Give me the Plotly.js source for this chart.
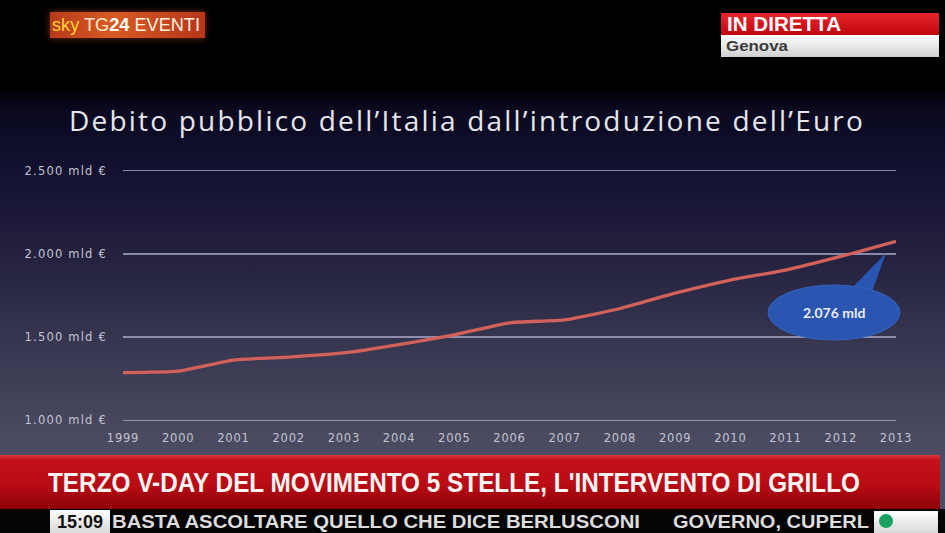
<!DOCTYPE html>
<html>
<head>
<meta charset="utf-8">
<script src="https://cdn.plot.ly/plotly-3.0.1.min.js"></script>
<style>
  html, body { margin:0; padding:0; width:945px; height:533px; overflow:hidden; background:#000; }
  #wrap { position:relative; width:945px; height:533px;
    background: linear-gradient(to bottom, #000 0px, #000 88px, #0a0920 110px, #131130 170px, #24223f 260px, #393852 350px, #4a4a61 440px, #4d4c63 460px); }
  #chart { position:absolute; left:0; top:0; width:945px; height:533px; }
  #chart .gtitle { letter-spacing: 2.2px; }
  #chart .ytick text { letter-spacing: 1.2px; }
  #chart .xtick text { letter-spacing: 0.8px; }
  .ov { position:absolute; font-family:"Liberation Sans",Arial,sans-serif; font-weight:bold; white-space:nowrap; }
  .fit { display:inline-block; transform-origin:0 50%; }
  #logo { left:50px; top:12px; width:155px; height:26px; background:linear-gradient(to right,#b83a1a,#d85a22 40%,#b8361a); box-shadow:0 0 6px rgba(230,90,30,0.55); font-size:19px; line-height:26px; padding-left:2px; box-sizing:border-box; font-weight:normal; overflow:hidden; }
  #live1 { left:721px; top:13px; width:218px; height:22px; background:linear-gradient(to bottom,#e8262c,#c0060e); color:#fff; font-size:20px; line-height:23px; padding-left:6px; box-sizing:border-box; }
  #live2 { left:721px; top:35px; width:218px; height:22px; background:linear-gradient(to bottom,#ffffff,#d0d0d0); color:#3a3a3a; font-size:15px; line-height:21px; padding-left:5px; box-sizing:border-box; }
  #banner { left:0px; top:455px; width:940px; height:54px; background:linear-gradient(to bottom,#d83a3c 0px,#c4101a 5px,#b80c14 30px,#8c0008 54px); color:#fff4f4; font-size:28px; line-height:56px; padding-left:48px; box-sizing:border-box; overflow:hidden; }
  #ticker { left:0; top:509px; width:945px; height:24px; background:#050505; }
  #clock { left:50px; top:510px; width:60px; height:23px; background:linear-gradient(to bottom,#ffffff,#d8d8d8); color:#111; font-size:18px; line-height:24px; text-align:center; }
  #tick1 { left:112px; top:510px; color:#dcdcdc; font-size:19px; line-height:24px; text-shadow:0 0 2px #000; }
  #tick2 { left:673px; top:510px; color:#dcdcdc; font-size:19px; line-height:24px; text-shadow:0 0 2px #000; }
  #greenbox { left:874px; top:511px; width:64px; height:22px; background:linear-gradient(to bottom,#ffffff,#d8d8d8); }
  #greendot { left:879px; top:514px; width:14px; height:14px; border-radius:50%; background:#1aa060; }
</style>
</head>
<body>
<div id="wrap">
  <div id="chart"></div>
  <div class="ov" id="logo"><span class="fit" data-w="148"><span style="color:#ffd23a">sky</span> <span style="color:#ffe9c8">TG</span><span style="color:#fff;font-weight:bold">24</span> <span style="color:#fff3e0">EVENTI</span></span></div>
  <div class="ov" id="live1"><span class="fit" data-w="114">IN DIRETTA</span></div>
  <div class="ov" id="live2"><span class="fit" data-w="62">Genova</span></div>
  <div class="ov" id="banner"><span class="fit" data-w="812">TERZO V-DAY DEL MOVIMENTO 5 STELLE, L'INTERVENTO DI GRILLO</span></div>
  <div class="ov" id="ticker"></div>
  <div class="ov" id="clock">15:09</div>
  <div class="ov" id="tick1"><span class="fit" data-w="528">BASTA ASCOLTARE QUELLO CHE DICE BERLUSCONI</span></div>
  <div class="ov" id="tick2"><span class="fit" data-w="196">GOVERNO, CUPERL</span></div>
  <div class="ov" id="greenbox"></div>
  <div class="ov" id="greendot"></div>
</div>
<script>
// ---- data ----
const years = [1999, 2000, 2001, 2002, 2003, 2004, 2005, 2006, 2007, 2008, 2009, 2010, 2011, 2012, 2013];
const debt  = [1287, 1295, 1362, 1380, 1405, 1455, 1514, 1586, 1604, 1672, 1764, 1843, 1903, 1985, 2076];
const yTickVals = [1000, 1500, 2000, 2500];
const yTickText = ["1.000 mld €", "1.500 mld €", "2.000 mld €", "2.500 mld €"];
const xTickText = years.map(String);
const chartTitle = "Debito pubblico dell’Italia dall’introduzione dell’Euro";
const calloutText = "2.076 mld";

// fit overlay texts horizontally
document.querySelectorAll('.fit').forEach(el => {
  const target = parseFloat(el.dataset.w);
  const w = el.getBoundingClientRect().width;
  if (w > 0) el.style.transform = `scaleX(${target / w})`;
});

// ---- layout helpers (pixel -> paper) ----
const W = 945, H = 533, ML = 123, MR = 49, MT = 169, MB = 111;
const PW = W - ML - MR, PH = H - MT - MB;
const px = x => (x - ML) / PW;
const py = y => (H - MB - y) / PH;

const trace = {
  x: years, y: debt, type: 'scatter', mode: 'lines',
  line: { color: '#d2615b', width: 3.3, shape: 'spline', smoothing: 0.5 },
  hoverinfo: 'skip'
};

const layout = {
  width: W, height: H,
  margin: { l: ML, r: MR, t: MT, b: MB },
  paper_bgcolor: 'rgba(0,0,0,0)',
  plot_bgcolor: 'rgba(0,0,0,0)',
  showlegend: false,
  title: {
    text: chartTitle,
    x: 467 / W, xref: 'container', xanchor: 'center',
    y: 1 - 121 / H, yref: 'container', yanchor: 'middle',
    font: { family: '"Open Sans", Lato, sans-serif', size: 28, color: '#e6e6ea' }
  },
  xaxis: {
    range: [1999, 2013],
    tickvals: years, ticktext: xTickText,
    showgrid: false, zeroline: false, showline: false,
    ticks: '', ticklabelstandoff: 7,
    tickfont: { family: '"DejaVu Sans", sans-serif', size: 11.5, color: '#c4c4d0' },
    fixedrange: true
  },
  yaxis: {
    range: [990, 2510],
    tickvals: yTickVals, ticktext: yTickText,
    showgrid: true, gridcolor: 'rgba(175,172,205,0.75)', gridwidth: 1.5,
    zeroline: false, showline: false,
    ticks: '', ticklabelstandoff: 15,
    tickfont: { family: '"DejaVu Sans", sans-serif', size: 11.5, color: '#c4c4d0' },
    fixedrange: true
  },
  shapes: [
    { type: 'path', xref: 'paper', yref: 'paper', layer: 'above',
      path: `M ${px(850)} ${py(290)} L ${px(886)} ${py(253)} L ${px(872)} ${py(292)} Z`,
      fillcolor: '#2a55b0', line: { width: 0 } },
    { type: 'circle', xref: 'paper', yref: 'paper', layer: 'above',
      x0: px(768), x1: px(900), y0: py(340), y1: py(285),
      fillcolor: '#2a55b0', line: { color: '#3762c0', width: 1 } }
  ],
  annotations: [
    { xref: 'paper', yref: 'paper', x: px(834), y: py(312), showarrow: false,
      text: calloutText, xanchor: 'center', yanchor: 'middle',
      font: { family: 'Lato, "Open Sans", sans-serif', size: 14, color: '#e8ecf8', weight: 'bold' } }
  ]
};

Plotly.newPlot('chart', [trace], layout, { displayModeBar: false, staticPlot: true });
</script>
</body>
</html>
